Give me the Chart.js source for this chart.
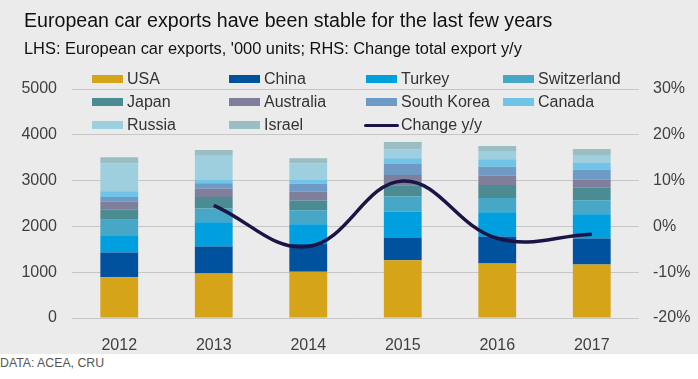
<!DOCTYPE html>
<html>
<head>
<meta charset="utf-8">
<script src="https://cdn.jsdelivr.net/npm/chart.js@4.4.1/dist/chart.umd.min.js"></script>
<style>
  body { margin: 0; width: 698px; height: 379px; background: #fff; font-family: "Liberation Sans", Arial, sans-serif; overflow: hidden; }
  #panel { position: absolute; left: 0; top: 0; width: 698px; height: 354px; background: #ebebeb; }
  #chartWrap { position: absolute; left: 0; top: 0; width: 698px; height: 354px; }
  .title { position: absolute; left: 24px; top: 9px; font-size: 19.6px; color: #111; white-space: nowrap; }
  .subtitle { position: absolute; left: 24px; top: 39px; font-size: 16.4px; color: #111; white-space: nowrap; }
  .source { position: absolute; left: 0; top: 356px; font-size: 12.3px; color: #555; }
  #legend { position: absolute; left: 0; top: 0; }
  .item { position: absolute; font-size: 16px; color: #333; white-space: nowrap; height: 18px; display: flex; align-items: center; }
  .item i { display: inline-block; width: 31px; height: 8px; margin-right: 4px; }
</style>
</head>
<body>
<div id="panel"></div>
<div id="chartWrap"><canvas id="exportsChart" width="698" height="354"></canvas></div>
<div class="title">European car exports have been stable for the last few years</div>
<div class="subtitle">LHS: European car exports, '000 units; RHS: Change total export y/y</div>
<div id="legend"></div>
<div class="source">DATA: ACEA, CRU</div>
<script>
// Data ('000 units)
var years = ['2012', '2013', '2014', '2015', '2016', '2017'];
var usa = [890, 970, 1010, 1260, 1190, 1170];
var china = [540, 590, 615, 485, 590, 565];
var turkey = [375, 530, 420, 580, 530, 530];
var switzerland = [340, 300, 305, 330, 310, 305];
var japan = [220, 250, 215, 245, 285, 275];
var australia = [180, 180, 190, 220, 200, 175];
var southKorea = [95, 120, 175, 240, 195, 215];
var canada = [125, 75, 85, 130, 165, 150];
var russia = [615, 530, 360, 195, 165, 160];
var israel = [130, 125, 115, 160, 125, 145];
var changeYoY = [null, 4.6, -4.4, 9.9, -2.6, -1.7];

var leftTicks = [0, 1000, 2000, 3000, 4000, 5000];
var rightTicks = [-20, -10, 0, 10, 20, 30];

var series = [
  { label: 'USA', data: usa, color: '#d5a418' },
  { label: 'China', data: china, color: '#00519e' },
  { label: 'Turkey', data: turkey, color: '#009fe0' },
  { label: 'Switzerland', data: switzerland, color: '#46a7c7' },
  { label: 'Japan', data: japan, color: '#4a8c91' },
  { label: 'Australia', data: australia, color: '#7f7e9b' },
  { label: 'South Korea', data: southKorea, color: '#6e9bc6' },
  { label: 'Canada', data: canada, color: '#70c4e8' },
  { label: 'Russia', data: russia, color: '#9ecfdf' },
  { label: 'Israel', data: israel, color: '#9bbec2' }
];
var lineColor = '#1b1547';

// Legend (HTML, 4 columns)
var legend = document.getElementById('legend');
var colX = [92, 229, 366, 503];
var rowY = [70, 93, 116];
var legendItems = series.map(function (s) { return { label: s.label, color: s.color }; });
legendItems.push({ label: 'Change y/y', color: lineColor, line: true });
legendItems.forEach(function (it, i) {
  var el = document.createElement('div');
  el.className = 'item';
  el.style.left = colX[i % 4] + 'px';
  el.style.top = rowY[Math.floor(i / 4)] + 'px';
  var sw = it.line
    ? '<i style="background:' + it.color + ';height:3px;width:35px;margin-left:-2px;margin-right:2px;border-radius:2px;"></i>'
    : '<i style="background:' + it.color + '"></i>';
  el.innerHTML = sw + it.label;
  legend.appendChild(el);
});

var datasets = series.map(function (s) {
  return {
    type: 'bar',
    label: s.label,
    data: s.data,
    backgroundColor: s.color,
    yAxisID: 'y',
    stack: 'exports',
    barPercentage: 0.4,
    categoryPercentage: 1,
    order: 2
  };
});
datasets.push({
  type: 'line',
  label: 'Change y/y',
  data: changeYoY,
  yAxisID: 'y1',
  borderColor: lineColor,
  borderWidth: 3.5,
  pointRadius: 0,
  tension: 0.4,
  fill: false,
  order: 1
});

var tickFont = { family: '"Liberation Sans", Arial, sans-serif', size: 16 };

new Chart(document.getElementById('exportsChart'), {
  data: { labels: years, datasets: datasets },
  options: {
    responsive: false,
    animation: false,
    layout: { padding: { top: 89, left: 0, right: 0, bottom: 0 } },
    plugins: { legend: { display: false }, tooltip: { enabled: false } },
    scales: {
      x: {
        stacked: true,
        grid: { display: false },
        border: { display: false },
        ticks: { color: '#404040', font: tickFont, padding: 10 },
        afterFit: function (s) { s.height = 36; }
      },
      y: {
        stacked: true,
        position: 'left',
        min: 0,
        max: 5000,
        afterBuildTicks: function (s) { s.ticks = leftTicks.map(function (v) { return { value: v }; }); },
        grid: { color: '#c6c6c6', lineWidth: 1, drawTicks: false },
        border: { display: false },
        ticks: { color: '#404040', font: tickFont, padding: 15, callback: function (v) { return String(v); } },
        afterFit: function (s) { s.width = 72; }
      },
      y1: {
        position: 'right',
        min: -20,
        max: 30,
        afterBuildTicks: function (s) { s.ticks = rightTicks.map(function (v) { return { value: v }; }); },
        grid: { display: false, drawTicks: false },
        border: { display: false },
        ticks: { color: '#404040', font: tickFont, padding: 14, callback: function (v) { return v + '%'; } },
        afterFit: function (s) { s.width = 59; }
      }
    }
  }
});
</script>
</body>
</html>
